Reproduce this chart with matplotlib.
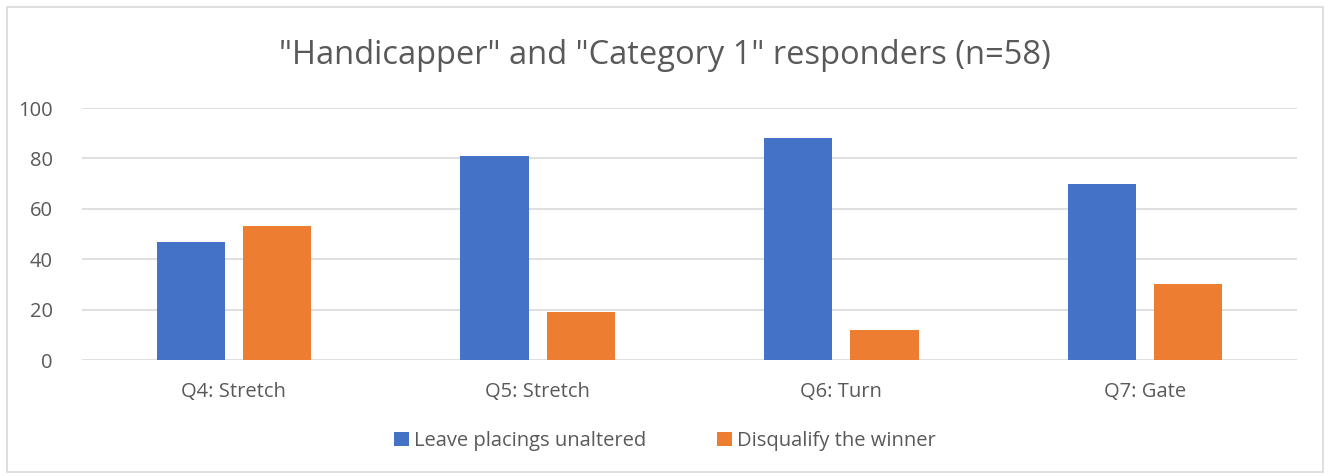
import matplotlib
matplotlib.use("Agg")
import matplotlib.pyplot as plt
import numpy as np
from matplotlib.patches import Rectangle

plt.rcParams["font.family"] = ["Open Sans", "DejaVu Sans"]

categories = ["Q4: Stretch", "Q5: Stretch", "Q6: Turn", "Q7: Gate"]
leave_unaltered = [47, 81, 88, 70]
disqualify_winner = [53, 19, 12, 30]
y_ticks = [0, 20, 40, 60, 80, 100]

BLUE = "#4472C4"
ORANGE = "#ED7D31"
TEXT = "#595959"
GRID = "#D9D9D9"

fig = plt.figure(figsize=(13.3, 4.76), dpi=100)
fig.patches.append(Rectangle((7 / 1330, 1 - 472 / 476), 1316 / 1330, 465 / 476,
                             transform=fig.transFigure, fill=False,
                             edgecolor=GRID, linewidth=1.2))

ax = fig.add_axes([82 / 1330, 1 - 360 / 476, 1215 / 1330, 252 / 476])

x = np.arange(len(categories))
width = 0.225
ax.bar(x - 0.142, leave_unaltered, width, color=BLUE, label="Leave placings unaltered", zorder=3)
ax.bar(x + 0.142, disqualify_winner, width, color=ORANGE, label="Disqualify the winner", zorder=3)

ax.set_xlim(-0.5, len(categories) - 0.5)
ax.set_ylim(0, 100)
ax.set_yticks(y_ticks)
ax.set_xticks(x)
ax.set_xticklabels(categories)
ax.tick_params(axis="both", length=0, labelsize=14.5, colors=TEXT)
ax.tick_params(axis="x", pad=16)
ax.tick_params(axis="y", pad=21)
ax.grid(True, axis="y", color=GRID, linewidth=1.2, zorder=0)
for s in ax.spines.values():
    s.set_visible(False)

fig.text(0.5, 1 - 55 / 476, "\"Handicapper\" and \"Category 1\" responders (n=58)",
         ha="center", va="center", fontsize=23.5, color=TEXT)

fig.legend(loc="center", bbox_to_anchor=(0.5, 1 - 441 / 476), ncol=2, frameon=False,
           fontsize=14.5, labelcolor=TEXT, handlelength=0.75, handleheight=0.75,
           handletextpad=0.25, columnspacing=3.5)

fig.savefig("out.png", dpi=100)
